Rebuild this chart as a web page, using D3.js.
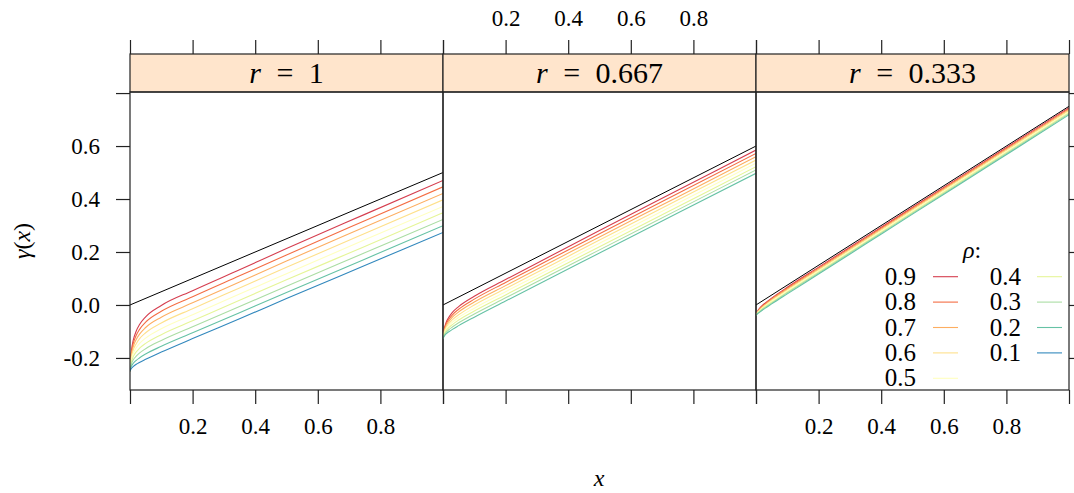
<!DOCTYPE html>
<html>
<head>
<meta charset="utf-8">
<script src="https://cdn.jsdelivr.net/npm/d3@7"></script>
<style>
  body { margin: 0; background: #fff; }
  svg text { font-family: 'Liberation Serif', 'DejaVu Serif', serif; fill: #000; }
</style>
</head>
<body>
<div id="chart"></div>
<script>
// panels (r) and groups (rho)
var panelR = ["1", "0.667", "0.333"];
var rhos = [0.9, 0.8, 0.7, 0.6, 0.5, 0.4, 0.3, 0.2, 0.1];
var rhoColors = ["#D53E4F", "#F46D43", "#FDAE61", "#FEE08B", "#FFFFBF",
                 "#E6F598", "#ABDDA4", "#66C2A5", "#3288BD"];

// x grid the curves were read at
var xs = [0, 0.002, 0.005, 0.01, 0.02, 0.03, 0.05, 0.1, 0.2, 0.35, 0.5, 0.75, 1];

// black reference line per panel, values at x = 0 and x = 1
var refX = [0, 1];
var refR1 = [0, 0.5];
var refR2 = [0, 0.6];
var refR3 = [0, 0.75];

// gamma(x) for rho = 0.9 ... 0.1, r = 1
var gammaR1 = [
  [-0.25, -0.204, -0.169, -0.135, -0.098, -0.075, -0.045, -0.002,  0.054,  0.133, 0.213, 0.342, 0.470],
  [-0.25, -0.209, -0.178, -0.147, -0.114, -0.093, -0.065, -0.024,  0.031,  0.110, 0.189, 0.318, 0.446],
  [-0.25, -0.214, -0.186, -0.159, -0.130, -0.111, -0.085, -0.046,  0.008,  0.087, 0.166, 0.294, 0.421],
  [-0.25, -0.219, -0.195, -0.171, -0.146, -0.128, -0.105, -0.068, -0.014,  0.064, 0.142, 0.270, 0.397],
  [-0.25, -0.224, -0.204, -0.184, -0.161, -0.146, -0.125, -0.090, -0.037,  0.041, 0.118, 0.246, 0.372],
  [-0.25, -0.229, -0.213, -0.196, -0.177, -0.164, -0.145, -0.112, -0.060,  0.018, 0.095, 0.221, 0.348],
  [-0.25, -0.234, -0.221, -0.208, -0.193, -0.182, -0.165, -0.134, -0.082, -0.006, 0.071, 0.197, 0.323],
  [-0.25, -0.239, -0.230, -0.221, -0.209, -0.200, -0.185, -0.156, -0.105, -0.029, 0.047, 0.173, 0.299],
  [-0.25, -0.244, -0.239, -0.233, -0.224, -0.217, -0.205, -0.178, -0.127, -0.052, 0.024, 0.149, 0.274]
];

// r = 0.667 (no rho = 0.1 curve)
var gammaR2 = [
  [-0.128, -0.104, -0.085, -0.066, -0.044, -0.028, -0.006,  0.033, 0.096, 0.189, 0.281, 0.433, 0.585],
  [-0.128, -0.106, -0.089, -0.072, -0.052, -0.037, -0.016,  0.022, 0.085, 0.177, 0.269, 0.421, 0.572],
  [-0.128, -0.109, -0.094, -0.078, -0.060, -0.046, -0.026,  0.011, 0.073, 0.165, 0.257, 0.408, 0.560],
  [-0.128, -0.111, -0.098, -0.084, -0.068, -0.055, -0.037,  0.000, 0.062, 0.153, 0.245, 0.396, 0.547],
  [-0.128, -0.114, -0.103, -0.091, -0.076, -0.065, -0.047, -0.012, 0.050, 0.141, 0.233, 0.384, 0.535],
  [-0.128, -0.117, -0.107, -0.097, -0.084, -0.074, -0.057, -0.023, 0.038, 0.129, 0.220, 0.371, 0.522],
  [-0.128, -0.119, -0.112, -0.103, -0.092, -0.083, -0.067, -0.034, 0.027, 0.118, 0.208, 0.359, 0.510],
  [-0.128, -0.122, -0.116, -0.109, -0.100, -0.092, -0.078, -0.046, 0.015, 0.106, 0.196, 0.347, 0.497],
  null
];

// r = 0.333 (no rho = 0.1 curve)
var gammaR3 = [
  [-0.040, -0.031, -0.024, -0.015, -0.002,  0.008, 0.026, 0.067, 0.143, 0.256, 0.369, 0.557, 0.745],
  [-0.040, -0.032, -0.025, -0.017, -0.005,  0.005, 0.023, 0.063, 0.139, 0.252, 0.365, 0.553, 0.741],
  [-0.040, -0.033, -0.027, -0.019, -0.007,  0.002, 0.020, 0.060, 0.135, 0.248, 0.362, 0.550, 0.737],
  [-0.040, -0.034, -0.028, -0.021, -0.010, -0.001, 0.017, 0.056, 0.132, 0.245, 0.358, 0.546, 0.734],
  [-0.040, -0.034, -0.029, -0.023, -0.012, -0.003, 0.014, 0.053, 0.128, 0.241, 0.354, 0.542, 0.730],
  [-0.040, -0.035, -0.031, -0.025, -0.015, -0.006, 0.010, 0.049, 0.125, 0.237, 0.350, 0.538, 0.726],
  [-0.040, -0.036, -0.032, -0.027, -0.017, -0.009, 0.007, 0.046, 0.121, 0.234, 0.346, 0.534, 0.722],
  [-0.040, -0.037, -0.033, -0.029, -0.020, -0.012, 0.004, 0.042, 0.117, 0.230, 0.343, 0.530, 0.718],
  null
];

var xTicks = [0, 0.2, 0.4, 0.6, 0.8, 1];
var yTicks = [-0.2, 0, 0.2, 0.4, 0.6, 0.8];
var yLabelTicks = [-0.2, 0, 0.2, 0.4, 0.6];

var width = 1074, height = 493;
var panelLeft = 130, panelW = 313;
var plotTop = 92, plotBottom = 390, stripTop = 54;
var serif = "'Liberation Serif', 'DejaVu Serif', serif";

var svg = d3.select("#chart").append("svg")
  .attr("width", width)
  .attr("height", height);

var y = d3.scaleLinear().domain([-0.321, 0.804]).range([plotBottom, plotTop]);

var refs = [refR1, refR2, refR3];
var curves = [gammaR1, gammaR2, gammaR3];

var tickFmt = function(d) { return (d > 0.01 && d < 0.99) ? d3.format(".1f")(d) : ""; };

function styleAxis(a) {
  a.attr("font-family", serif);
  a.select(".domain").remove();
  a.selectAll("line").attr("stroke", "#222").attr("stroke-width", 1.2);
  a.selectAll("text").attr("font-family", serif).attr("font-size", 23).attr("fill", "#000");
}

panelR.forEach(function(r, i) {
  var x0 = panelLeft + i * panelW;
  var x = d3.scaleLinear().domain([0, 1]).range([x0, x0 + panelW]);

  var g = svg.append("g");

  svg.append("clipPath").attr("id", "clip" + i)
    .append("rect").attr("x", x0).attr("y", plotTop).attr("width", panelW).attr("height", plotBottom - plotTop);

  var plot = g.append("g").attr("clip-path", "url(#clip" + i + ")");

  // reference line
  plot.append("path")
    .datum(refX.map(function(v, k) { return [v, refs[i][k]]; }))
    .attr("d", d3.line().x(function(d) { return x(d[0]); }).y(function(d) { return y(d[1]); }))
    .attr("fill", "none").attr("stroke", "#000").attr("stroke-width", 1);

  var line = d3.line()
    .curve(d3.curveMonotoneX)
    .x(function(d) { return x(d[0]); })
    .y(function(d) { return y(d[1]); });

  curves[i].forEach(function(vals, k) {
    if (!vals) return;
    plot.append("path")
      .datum(xs.map(function(v, j) { return [v, vals[j]]; }))
      .attr("d", line)
      .attr("fill", "none")
      .attr("stroke", rhoColors[k])
      .attr("stroke-width", 1.1);
  });

  // strip
  g.append("rect")
    .attr("x", x0).attr("y", stripTop).attr("width", panelW).attr("height", plotTop - stripTop)
    .attr("fill", "#FFE5CC").attr("stroke", "#222").attr("stroke-width", 1.2);
  var st = g.append("text")
    .attr("x", x0 + panelW / 2).attr("y", 83)
    .attr("text-anchor", "middle").attr("font-family", serif).attr("font-size", 30);
  st.append("tspan").attr("font-style", "italic").text("r");
  st.append("tspan").attr("dx", 8).text(" =");
  st.append("tspan").attr("dx", 8).text(" " + r);

  // panel box
  g.append("rect")
    .attr("x", x0).attr("y", plotTop).attr("width", panelW).attr("height", plotBottom - plotTop)
    .attr("fill", "none").attr("stroke", "#222").attr("stroke-width", 1.2);

  var bAxis = d3.axisBottom(x).tickValues(xTicks).tickSize(14).tickPadding(14)
    .tickFormat(i === 1 ? function() { return ""; } : tickFmt);
  styleAxis(g.append("g").attr("transform", "translate(0," + plotBottom + ")").call(bAxis));

  var tAxis = d3.axisTop(x).tickValues(xTicks).tickSize(14).tickPadding(14)
    .tickFormat(i === 1 ? tickFmt : function() { return ""; });
  styleAxis(g.append("g").attr("transform", "translate(0," + stripTop + ")").call(tAxis));
});

var lAxis = d3.axisLeft(y).tickValues(yTicks).tickSize(14).tickPadding(16)
  .tickFormat(function(d) { return yLabelTicks.indexOf(d) >= 0 ? d3.format(".1f")(d).replace("−", "-") : ""; });
styleAxis(svg.append("g").attr("transform", "translate(" + panelLeft + ",0)").call(lAxis));
var rAxis = d3.axisRight(y).tickValues(yTicks).tickSize(14).tickFormat(function() { return ""; });
styleAxis(svg.append("g").attr("transform", "translate(" + (panelLeft + 3 * panelW) + ",0)").call(rAxis));

// axis titles
var yt = svg.append("text")
  .attr("transform", "translate(30,241) rotate(-90)")
  .attr("text-anchor", "middle").attr("font-family", serif).attr("font-size", 24);
yt.append("tspan").attr("font-style", "italic").text("γ");
yt.append("tspan").text("(");
yt.append("tspan").attr("font-style", "italic").text("x");
yt.append("tspan").text(")");

svg.append("text")
  .attr("x", 599).attr("y", 486)
  .attr("text-anchor", "middle").attr("font-family", serif).attr("font-size", 24).attr("font-style", "italic")
  .text("x");

// legend inside third panel
var legend = svg.append("g");
var lt = legend.append("text")
  .attr("x", 972).attr("y", 258)
  .attr("text-anchor", "middle").attr("font-family", serif).attr("font-size", 24);
lt.append("tspan").attr("font-style", "italic").text("ρ");
lt.append("tspan").text(":");

rhos.forEach(function(rho, k) {
  var col = k < 5 ? 0 : 1;
  var row = k < 5 ? k : k - 5;
  var cy = 276.7 + row * 25.4;
  var lx = col === 0 ? 916 : 1021;
  var linex = col === 0 ? 933 : 1037;
  legend.append("text")
    .attr("x", lx).attr("y", cy + 8)
    .attr("text-anchor", "end").attr("font-family", serif).attr("font-size", 25)
    .text(d3.format(".1f")(rho));
  legend.append("line")
    .attr("x1", linex).attr("x2", linex + 25)
    .attr("y1", cy).attr("y2", cy)
    .attr("stroke", rhoColors[k]).attr("stroke-width", 1.1);
});
</script>
</body>
</html>
